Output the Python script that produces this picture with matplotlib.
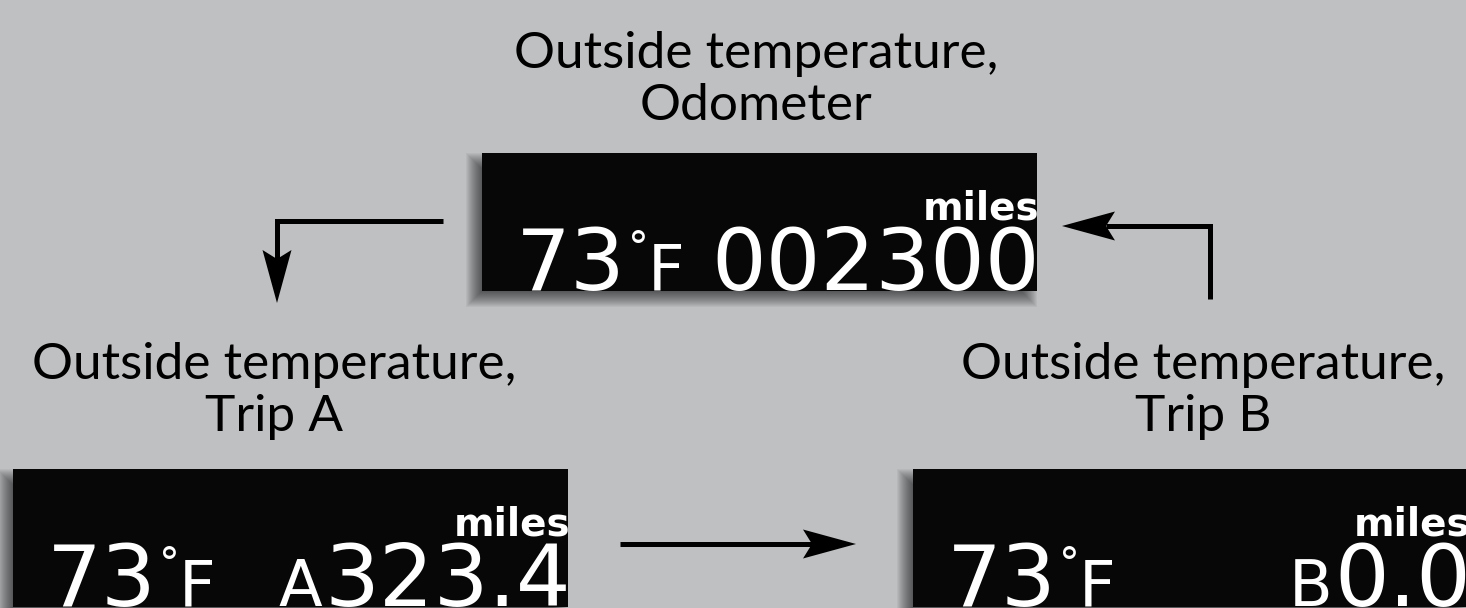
import numpy as np
import matplotlib.pyplot as plt
from matplotlib.patches import Rectangle, Polygon

W, H = 1466, 608
FONDO = '#bfc0c1'

# Textos de cada pantalla (odómetro, trip A, trip B)
titulos = ["Outside temperature,\nOdometer",
           "Outside temperature,\nTrip A",
           "Outside temperature,\nTrip B"]
temperaturas = ["73", "73", "73"]
prefijos = ["", "A", "B"]
lecturas = ["002300", "323.4", "0.0"]
unidades = ["miles", "miles", "miles"]

# Posición de cada pantalla (x izquierda, y superior) y de la primera línea del título
pantallas = [(482, 153), (13, 469), (913, 469)]
titulo_xy = [(756, 68), (274, 379), (1203, 379)]
ancho, alto = 555, 138
interlineado = 52

# Recorridos de las flechas (el último punto es la punta)
flechas = [
    [(443, 221), (277, 221), (277, 303)],
    [(1210, 299), (1210, 226), (1062, 226)],
    [(620, 544), (856, 544)],
]

FUENTE_TITULO = ['Lato', 'DejaVu Sans']
FUENTE_LCD = ['DejaVu Sans']


# Punta de flecha con la base algo hundida
def punta(p_antes, p_tip, largo=53, semi=14.5, hueco=9):
    p0 = np.array(p_antes, float)
    tip = np.array(p_tip, float)
    d = (tip - p0) / np.linalg.norm(tip - p0)
    n = np.array([-d[1], d[0]])
    base = tip - d * largo
    muesca = base + d * hueco
    return np.array([tip, base + n * semi, muesca, base - n * semi]), muesca


def sombra(ax, x, y, desp=8, difuso=8):
    # sombra difusa desplazada hacia abajo a la izquierda
    for e in range(-difuso, difuso + 1):
        ax.add_patch(Rectangle((x - desp - e, y + desp - e), ancho + 2 * e, alto + 2 * e,
                               facecolor='black', edgecolor='none', alpha=0.045, zorder=1))


def main():
    fig = plt.figure(figsize=(W / 100, H / 100), dpi=100, facecolor=FONDO)
    ax = fig.add_axes([0, 0, 1, 1])
    ax.set_xlim(0, W)
    ax.set_ylim(H, 0)
    ax.axis('off')
    ax.set_facecolor(FONDO)
    renderer = fig.canvas.get_renderer()

    for k, (x0, y0) in enumerate(pantallas):
        sombra(ax, x0, y0)
        ax.add_patch(Rectangle((x0, y0), ancho, alto, facecolor='#080707',
                               edgecolor='none', zorder=2))
        yb = y0 + alto - 1  # línea base de los dígitos

        # temperatura
        ax.text(x0 + 144, yb, temperaturas[k], color='white', fontsize=62,
                family=FUENTE_LCD, ha='right', va='baseline', zorder=3)
        ax.text(x0 + 146, yb - 28, "°", color='white', fontsize=30,
                family=FUENTE_LCD, ha='left', va='baseline', zorder=3)
        ax.text(x0 + 166, yb, "F", color='white', fontsize=46,
                family=FUENTE_LCD, ha='left', va='baseline', zorder=3)

        # lectura principal, alineada a la derecha
        t = ax.text(x0 + ancho + 3, yb, lecturas[k], color='white', fontsize=62,
                    family=FUENTE_LCD, ha='right', va='baseline', zorder=3)
        if prefijos[k]:
            bb = t.get_window_extent(renderer).transformed(ax.transData.inverted())
            ax.text(bb.x0 - 2, yb, prefijos[k], color='white', fontsize=46,
                    family=FUENTE_LCD, ha='right', va='baseline', zorder=3)

        ax.text(x0 + ancho + 2, y0 + 67, unidades[k], color='white', fontsize=28,
                family=FUENTE_LCD, fontweight='bold', ha='right', va='baseline', zorder=3)

        # título en dos líneas
        tx, ty = titulo_xy[k]
        for j, linea in enumerate(titulos[k].split('\n')):
            ax.text(tx, ty + j * interlineado, linea, color='black', fontsize=37,
                    family=FUENTE_TITULO, ha='center', va='baseline', zorder=3)

    for camino in flechas:
        cabeza, muesca = punta(camino[-2], camino[-1])
        pts = np.array(camino[:-1] + [tuple(muesca)], float)
        ax.plot(pts[:, 0], pts[:, 1], color='black', lw=3.6,
                solid_capstyle='butt', solid_joinstyle='miter', zorder=4)
        ax.add_patch(Polygon(cabeza, closed=True, facecolor='black',
                             edgecolor='none', zorder=5))

    fig.savefig('out.png', dpi=100, facecolor=FONDO)


if __name__ == "__main__":
    main()
